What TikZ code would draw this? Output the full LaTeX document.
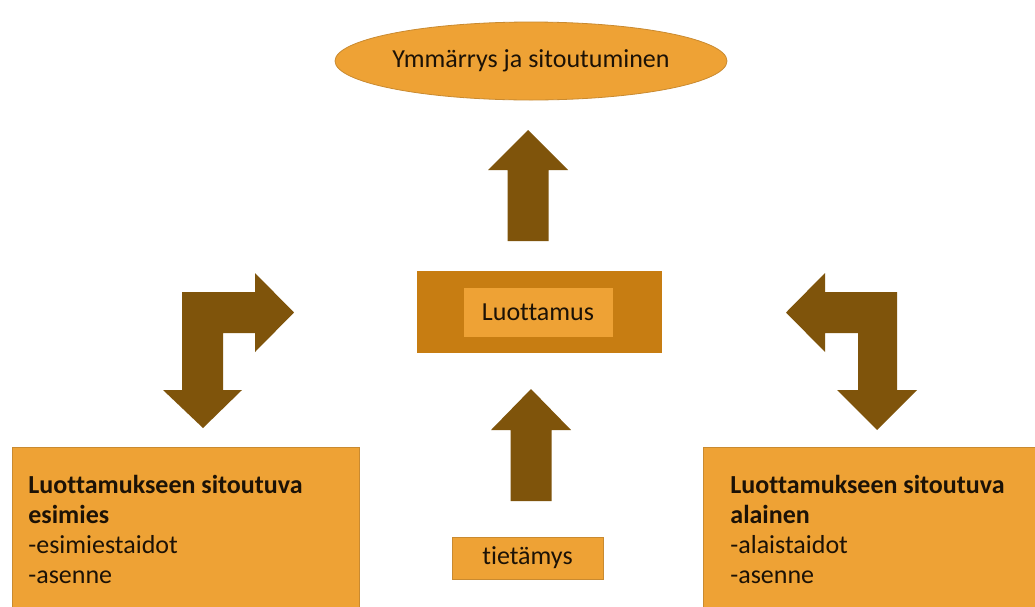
\documentclass[tikz,border=0pt]{standalone}
\usepackage{fontspec}
\setmainfont{Carlito}[Ligatures=NoCommon]
\usetikzlibrary{shapes.geometric,positioning}
\definecolor{Amber}{HTML}{EEA235}
\definecolor{AmberDark}{HTML}{C77D12}
\definecolor{Rim}{HTML}{C98A30}
\definecolor{Bronze}{HTML}{7F540B}
\definecolor{Ink}{HTML}{1C1206}
\tikzset{
 box/.style={draw=Rim,line width=0.8pt,fill=Amber,font=\fontsize{26}{30}\selectfont,text=Ink,inner sep=0pt},
 rolebox/.style={box,anchor=north west,align=flush left,inner ysep=28pt},
 blockarr/.style={fill=Bronze,draw=none}
}
\begin{document}
\begin{tikzpicture}[x=1pt,y=-1pt]
\useasboundingbox (0,0) rectangle (1035,606);
\fill[white] (0,0) rectangle (1035,606);
\clip (0,0) rectangle (1035,606);
\node[box,ellipse,minimum width=358pt,minimum height=78pt] (goal) at (531,61) {Ymmärrys ja sitoutuminen};
\node[box,fill=AmberDark,draw=none,minimum width=245pt,minimum height=82pt] (trust) at (539.5,312) {};
\node[box,draw=AmberDark,minimum width=150pt,minimum height=50pt] (trustlbl) at (538,312) {Luottamus};
\node[box,minimum width=151pt,minimum height=42pt] (know) at (527.5,558) {tietämys};
\node[rolebox,text width=315pt,inner xsep=16pt] (boss) at (12,447) {\textbf{Luottamukseen sitoutuva}\\\textbf{esimies}\\-esimiestaidot\\-asenne};
\node[rolebox,text width=310pt,inner xsep=27pt] (staff) at (703,447) {\textbf{Luottamukseen sitoutuva}\\\textbf{alainen}\\-alaistaidot\\-asenne};
\foreach \cx/\tipy/\basey/\endy in {528/130/170/241,531/389/430/501}
 \fill[blockarr] (\cx,\tipy) -- ({\cx+40},\basey) -- ({\cx+20.5},\basey) -- ({\cx+20.5},\endy)
  -- ({\cx-20.5},\endy) -- ({\cx-20.5},\basey) -- ({\cx-40},\basey) -- cycle;
\fill[blockarr] (203,428) -- (163,390) -- (182,390) -- (182,292) -- (255,292) -- (255,273) -- (294,312.5)
 -- (255,352) -- (255,333) -- (223,333) -- (223,390) -- (242,390) -- cycle;
\fill[blockarr] (786,312.5) -- (825,273) -- (825,292) -- (897,292) -- (897,390) -- (917,390) -- (877,430)
 -- (837,390) -- (858,390) -- (858,333) -- (825,333) -- (825,352) -- cycle;
\end{tikzpicture}
\end{document}
